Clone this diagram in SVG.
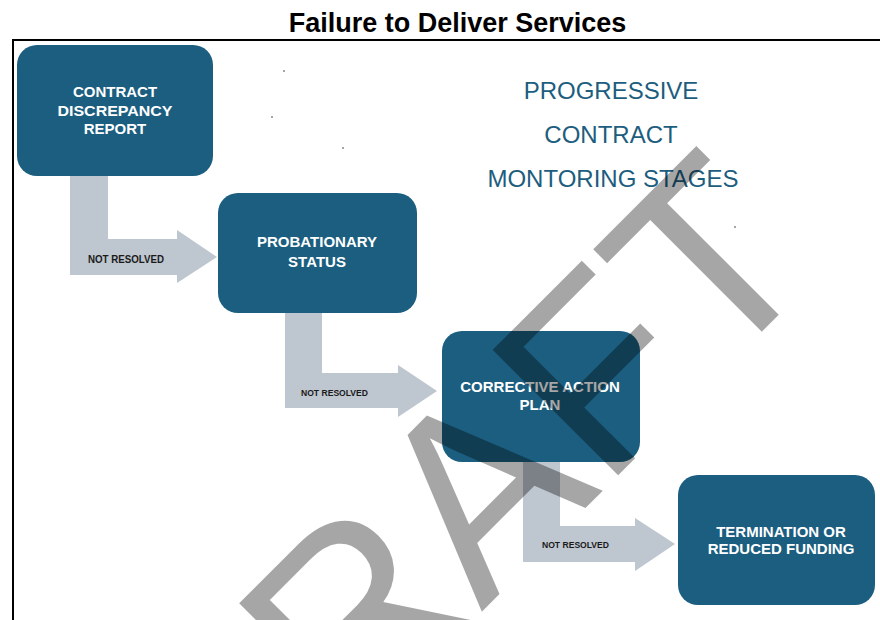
<svg xmlns="http://www.w3.org/2000/svg" width="880" height="620" viewBox="0 0 880 620">
  <style>
    .box { fill: #1b5e80; }
    .boxtxt { fill: #ffffff; font-family: "Liberation Sans", Arial, sans-serif; font-weight: bold; font-size: 15px; text-anchor: middle; }
    .arrow { fill: #bec6cf; }
    .lbl { fill: #1a1a1a; font-family: "Liberation Sans", Arial, sans-serif; font-weight: bold; }
    .head { fill: #1d5d7e; font-family: "Liberation Sans", Arial, sans-serif; font-size: 24px; text-anchor: middle; }
    .dot { fill: #333333; }
  </style>
  <rect x="0" y="0" width="880" height="620" fill="#ffffff"/>

  <text x="457.5" y="32" font-family="'Liberation Sans', Arial, sans-serif" font-weight="bold" font-size="27" text-anchor="middle" fill="#000000">Failure to Deliver Services</text>

  <rect x="13" y="40" width="880" height="600" fill="none" stroke="#000000" stroke-width="2"/>

  <g id="heading">
    <text class="head" x="611" y="99">PROGRESSIVE</text>
    <text class="head" x="611" y="143">CONTRACT</text>
    <text class="head" x="613" y="187">MONTORING STAGES</text>
  </g>

  <g id="specks">
    <circle class="dot" cx="284" cy="71" r="0.8"/>
    <circle class="dot" cx="272" cy="117" r="0.8"/>
    <circle class="dot" cx="343" cy="148" r="0.8"/>
    <circle class="dot" cx="735" cy="227" r="0.8"/>
  </g>

  <g id="connectors">
    <g id="c1">
      <polygon class="arrow" points="70,176 108,176 108,239 177,239 177,230 217,257 177,283 177,275 70,275"/>
      <text class="lbl" x="88" y="263" font-size="10.3" textLength="76" lengthAdjust="spacingAndGlyphs">NOT RESOLVED</text>
    </g>
    <g id="c2">
      <polygon class="arrow" points="285,313 322,313 322,373 398,373 398,365 437,391 398,417 398,408 285,408"/>
      <text class="lbl" x="301" y="396" font-size="9.2" textLength="67" lengthAdjust="spacingAndGlyphs">NOT RESOLVED</text>
    </g>
    <g id="c3">
      <polygon class="arrow" points="523,462 560,462 560,526 635,526 635,518 675,544 635,571 635,562 523,562"/>
      <text class="lbl" x="542" y="548" font-size="9.2" textLength="67" lengthAdjust="spacingAndGlyphs">NOT RESOLVED</text>
    </g>
  </g>

  <g id="node-cdr">
    <rect class="box" x="17" y="45" width="196" height="131" rx="20"/>
    <text class="boxtxt" x="115" y="97">CONTRACT</text>
    <text class="boxtxt" x="115" y="116" textLength="115" lengthAdjust="spacingAndGlyphs">DISCREPANCY</text>
    <text class="boxtxt" x="115" y="134">REPORT</text>
  </g>

  <g id="node-probation">
    <rect class="box" x="218" y="193" width="199" height="120" rx="20"/>
    <text class="boxtxt" x="317" y="247">PROBATIONARY</text>
    <text class="boxtxt" x="317" y="267">STATUS</text>
  </g>

  <g id="node-cap">
    <rect class="box" x="442" y="331" width="198" height="131" rx="20"/>
    <text class="boxtxt" x="540" y="392">CORRECTIVE ACTION</text>
    <text class="boxtxt" x="540" y="410">PLAN</text>
  </g>

  <g id="node-termination">
    <rect class="box" x="678" y="475" width="197" height="130" rx="20"/>
    <text class="boxtxt" x="781" y="537">TERMINATION OR</text>
    <text class="boxtxt" x="781" y="554">REDUCED FUNDING</text>
  </g>

  <text transform="translate(218,875.5) rotate(-45)" x="0" y="0" font-family="'Liberation Sans', Arial, sans-serif" font-size="258" fill="#000000" fill-opacity="0.35">DRAFT</text>
</svg>
